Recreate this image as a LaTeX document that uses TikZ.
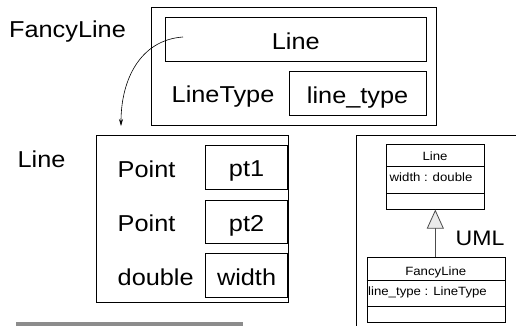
\documentclass[tikz,border=0pt]{standalone}
\usepackage{fontspec}
\setmainfont[FakeStretch=1.1]{Liberation Sans}
\usetikzlibrary{arrows.meta}
\begin{document}
\begin{tikzpicture}[x=1pt,y=-1pt,
  bigfont/.style={font=\fontsize{23}{27}\selectfont},
  smallfont/.style={font=\fontsize{12}{14}\selectfont},
  field/.style={draw=black, line width=0.8pt, inner sep=0pt, anchor=north west,
    bigfont, text height=19.5pt, text depth=0pt},
  frame/.style={draw=black, line width=0.8pt, inner sep=0pt, anchor=north west},
  caption/.style={inner sep=0pt, anchor=base, bigfont},
  typename/.style={inner sep=0pt, anchor=base west, bigfont},
  umlclass/.style={draw=black, line width=0.6pt, inner sep=0pt, anchor=north west},
  umltext/.style={inner sep=0pt, smallfont},
  shadow/.style={line width=1.5pt},
  pointer/.style={line width=0.6pt, -{Stealth[length=7pt,width=4pt]}},
  inherit/.style={draw=black!70, line width=0.8pt,
    -{Triangle[length=19pt,width=17pt,fill=black!8]}},
]
\useasboundingbox (0,0) rectangle (516,326);

% FancyLine object layout
\node[caption] (fancycap) at (67.5,37.7) {FancyLine};
\node[frame, minimum width=284.8pt, minimum height=117.5pt] (fancyobj) at (150.7,7.5) {};
\node[field, minimum width=260.7pt, minimum height=43.4pt] (basefield) at (165,17.3) {Line};
\node[typename] (ltypename) at (171.5,102.5) {LineType};
\node[field, minimum width=137pt, minimum height=43.7pt] (typefield) at (288.7,71.3) {line\_type};

% pointer from the embedded base part to the Line layout
\coordinate (ptrstart) at (183,37);
\coordinate (ptrend) at (121,126);
\draw[pointer] (ptrstart) .. controls (140,40) and (121,80) .. (ptrend);

% Line object layout
\node[caption] (linecap) at (41.5,167) {Line};
\node[frame, minimum width=192.3pt, minimum height=166.7pt] (lineobj) at (96,135) {};
\node[typename] (tpt1) at (117.5,177) {Point};
\node[typename] (tpt2) at (117.5,231.5) {Point};
\node[typename] (twidth) at (117.5,285.5) {double};
\node[field, minimum width=82.3pt, minimum height=43.6pt] (fpt1) at (205,145) {pt1};
\node[field, minimum width=82.3pt, minimum height=43.8pt] (fpt2) at (205,199.5) {pt2};
\node[field, minimum width=82.3pt, minimum height=43.4pt] (fwidth) at (205,253.3) {width};

% separator bar
\fill[black!45] (16,321.7) rectangle (243,326);

% UML panel
\draw[line width=0.8pt] (517,135) -- (356,135) -- (356,327);

% class Line
\node[umlclass, minimum width=98pt, minimum height=65pt] (umlline) at (386,144) {};
\draw[line width=0.6pt] (umlline.west |- 0,166.7) -- (umlline.east |- 0,166.7);
\draw[line width=0.6pt] (umlline.west |- 0,193.3) -- (umlline.east |- 0,193.3);
\draw[shadow] (umlline.north east) -- (umlline.south east) -- (umlline.south west);
\node[umltext, anchor=base] (umllinename) at (435,160.5) {Line};
\node[umltext, anchor=base west] (umllineattr) at (389.5,181) {width : double};

% class FancyLine
\node[umlclass, minimum width=138.5pt, minimum height=65pt] (umlfancy) at (366.5,257) {};
\draw[line width=0.6pt] (umlfancy.west |- 0,280) -- (umlfancy.east |- 0,280);
\draw[line width=0.6pt] (umlfancy.west |- 0,306) -- (umlfancy.east |- 0,306);
\draw[shadow] (umlfancy.north east) -- (umlfancy.south east) -- (umlfancy.south west);
\node[umltext, anchor=base] (umlfancyname) at (435.75,275) {FancyLine};
\node[umltext, anchor=base west] (umlfancyattr) at (368,295) {line\_type : LineType};

% generalisation
\draw[inherit] (umlfancy.north -| umlline.south) -- (umlline.south);
\node[inner sep=0pt, anchor=base, font=\fontsize{21}{25}\selectfont] (umlcap) at (480,245) {UML};
\end{tikzpicture}
\end{document}
